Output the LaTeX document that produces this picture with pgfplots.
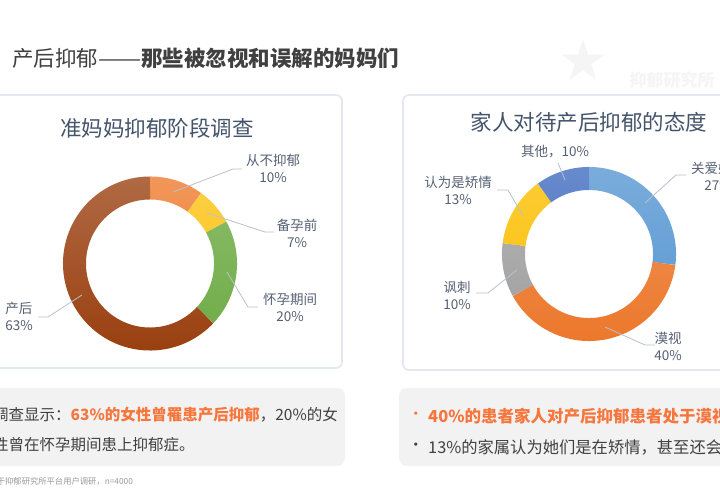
\documentclass[border=0pt]{standalone}
\usepackage{pgfplots}
\pgfplotsset{compat=1.18}
\usetikzlibrary{fadings}
\usepackage{fontspec}
\setmainfont{Noto Sans CJK SC}
\definecolor{txt}{HTML}{404040}
\definecolor{hl}{HTML}{F5773D}
\definecolor{lbl}{HTML}{556074}
\definecolor{ttl}{HTML}{44546A}
\definecolor{lead}{HTML}{B8C2CF}
\definecolor{card}{HTML}{E3E8F0}
\definecolor{box}{HTML}{F2F2F2}
\definecolor{wm}{HTML}{F5F5F5}
\definecolor{cA}{HTML}{EE7A2C}
\definecolor{cB}{HTML}{FCC210}
\definecolor{cC}{HTML}{6DAB44}
\definecolor{cD}{HTML}{9A4010}
\definecolor{rA}{HTML}{5596D2}
\definecolor{rB}{HTML}{EC782C}
\definecolor{rC}{HTML}{A0A0A0}
\definecolor{rD}{HTML}{FCBF00}
\definecolor{rE}{HTML}{3F6AC0}
\tikzfading[name=topfade, top color=transparent!0, bottom color=transparent!100]
% \ring{colour}{cumulative start %}{value %}
\newcommand{\ring}[3]{%
  \addplot[draw=#1, line width=23pt, domain=90-3.6*(#2+#3):90-3.6*(#2), samples=90]
    ({0.868*cos(x)},{0.868*sin(x)});}
\pgfplotsset{donut/.style={anchor=center, width=174pt, height=174pt, scale only axis,
  hide axis, xmin=-1, xmax=1, ymin=-1, ymax=1, clip=false}}
\begin{document}
\begin{tikzpicture}[x=1pt,y=1pt]
\path[use as bounding box] (0,0) rectangle (720,-495);
\fill[white] (0,0) rectangle (720,-495);
% faint watermarks
\node[wm, font=\bfseries\fontsize{17}{17}\selectfont] at (672,-80) {抑郁研究所};
\node[wm, font=\fontsize{46}{46}\selectfont] at (583,-60) {★};
% title
\node[anchor=west, inner sep=0, text=txt, font=\fontsize{21.5}{24}\selectfont] at (12,-58)
  {产后抑郁\scalebox{1.2}[1]{——}\textbf{那些被忽视和误解的妈妈们}};
% cards
\filldraw[draw=card, line width=1.6pt, fill=white, rounded corners=6pt] (-10,-95) rectangle (342,-368);
\filldraw[draw=card, line width=1.6pt, fill=white, rounded corners=6pt] (403,-95) rectangle (740,-370);
\node[text=ttl, font=\fontsize{21.5}{24}\selectfont] at (157,-128) {准妈妈抑郁阶段调查};
\node[text=ttl, font=\fontsize{21.5}{24}\selectfont] at (589,-122) {家人对待产后抑郁的态度};
% left donut
\begin{axis}[donut, at={(150pt,-263.5pt)}]
\ring{cA}{0}{10}
\ring{cB}{10}{7}
\ring{cC}{17}{20}
\ring{cD}{37}{63}
\end{axis}
% right donut
\begin{axis}[donut, at={(589pt,-254pt)}]
\ring{rA}{0}{27}
\ring{rB}{27}{40}
\ring{rC}{67}{10}
\ring{rD}{77}{13}
\ring{rE}{90}{10}
\end{axis}
% soft top highlight on the rings
\fill[white, fill opacity=0.22, path fading=topfade, even odd rule]
  (150,-263.5) circle (87.5) (150,-263.5) circle (63.5);
\fill[white, fill opacity=0.22, path fading=topfade, even odd rule]
  (589,-254) circle (87.5) (589,-254) circle (63.5);
% leader lines
\begin{scope}[draw=lead, line width=0.8pt]
\draw (173,-192) -- (233,-169) -- (242,-169);
\draw (207,-213) -- (265,-232) -- (274,-232);
\draw (227,-272) -- (248,-307) -- (258,-307);
\draw (82,-295) -- (48,-317) -- (38,-317);
\draw (565,-180) -- (558,-163);
\draw (523,-216) -- (508,-190) -- (497,-190);
\draw (517,-270) -- (488,-293) -- (476,-293);
\draw (605,-327) -- (645,-345) -- (655,-345);
\draw (645,-203) -- (676,-175) -- (686,-175);
\end{scope}
% labels
\begin{scope}[every node/.style={text=lbl, align=center, inner sep=0, font=\fontsize{13.5}{17}\selectfont}]
\node at (273,-168) {从不抑郁\\10\%};
\node at (297,-233) {备孕前\\7\%};
\node at (290,-307) {怀孕期间\\20\%};
\node at (19,-316) {产后\\63\%};
\node at (555,-152) {其他，10\%};
\node at (458,-190) {认为是矫情\\13\%};
\node at (457,-295) {讽刺\\10\%};
\node at (668,-346) {漠视\\40\%};
\node at (718,-176) {关爱她们\\27\%};
\end{scope}
% bottom boxes
\fill[box, rounded corners=8pt] (-10,-388) rectangle (345,-466);
\fill[box, rounded corners=8pt] (399,-388) rectangle (740,-466);
\begin{scope}[every node/.style={anchor=west, inner sep=0, text=txt, font=\fontsize{15.5}{18}\selectfont}]
\node at (-7,-415) {调查显示：{\color{hl}\bfseries 63\%的女性曾罹患产后抑郁}，20\%的女};
\node at (-7,-445) {性曾在怀孕期间患上抑郁症。};
\node[text=hl] at (408,-416) {•};
\node[text=hl, font=\bfseries\fontsize{16.5}{18}\selectfont] at (428,-416) {40\%的患者家人对产后抑郁患者处于漠视状态};
\node at (408,-447) {•};
\node[font=\fontsize{16.3}{18}\selectfont] at (428,-447) {13\%的家属认为她们是在矫情，甚至还会讽刺她们};
\end{scope}
\node[anchor=west, inner sep=0, text=gray!80, font=\fontsize{8.3}{10}\selectfont] at (-36.5,-481)
  {数据来源于抑郁研究所平台用户调研，n=4000};
\end{tikzpicture}
\end{document}
